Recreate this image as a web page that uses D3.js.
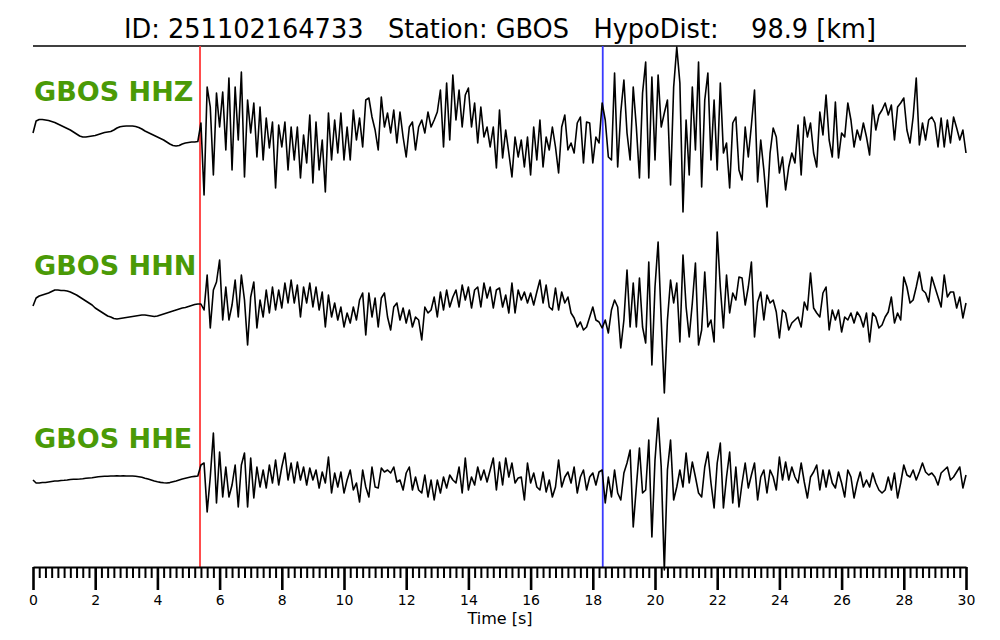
<!DOCTYPE html>
<html><head><meta charset="utf-8">
<script src="https://cdn.jsdelivr.net/npm/d3@7"></script>
<style>body{margin:0;background:#fff} svg{display:block;font-family:"DejaVu Sans",sans-serif}</style>
</head><body><svg id="c" width="1000" height="640"></svg>
<script>
// sampling interval of the traces [s]
const dt = 0.1;
const titleText = "ID: 251102164733   Station: GBOS   HypoDist:    98.9 [km]";
const xLabel = "Time [s]";
const majorTicks = [0,2,4,6,8,10,12,14,16,18,20,22,24,26,28,30];
const pPick = 5.37, sPick = 18.32;
const channels = ["GBOS HHZ","GBOS HHN","GBOS HHE"];

// HHZ amplitude (arbitrary units), segments start at 0.0, 5.4, 10.2, 20.4 s
const hhzPre = [-3,9,10.5,10.5,10,9.5,8.5,7.5,6,4.5,3,1.5,0,-2,-4,-6,-7,-7,-6.5,-6,-5.5,-4.5,-3.5,-2.5,-2,-1.5,0,2,3.3,3.8,4,4,4,3.5,2.5,1,-1,-2.5,-4,-5.5,-7,-8.5,-10,-12,-14,-15.5,-16,-15.5,-14,-13,-12.5,-12,-12,-11.5];
const hhzA = [7,-65,43,23,-45,37,3,38,-20,52,-40,43,-10,58,-47,30,-3,27,-27,23,-30,12,-18,8,-58,5,-17,8,-40,3,-30,3,-48,-5,-33,15,-53,8,-40,-10,-62,17,-30,10,-23,17,-30,3];
const hhzB = [-30,20,-10,12,-17,30,32,13,0,-20, 33,3,17,-3,20,-13,18,-7,-27,3, 8,-20,3,10,-3,18,3,10,18,40, -17,47,-10,55,10,40,3,35,42,3, 27,-13,23,-7,3,-17,3,-38,20,-28, 0,-23,-47,-7,-27,-10,-37,-7,-45,3, -30,10,-37,-7,-20,3,-17,-43,3,15, -20,-13,-23,7,13,-33,8,7,-33,-7, -13,27,10,-27,-30,57,-37,18,50,-3, -30,43,3,-48,37,68,-48,53,-30,55, 3,17];
const hhzC = [30,-55,43,83,47,-82,10,-45,43,-20, 68,-57,30,57,-30,30,-40,47,-23,-13, -58,7,13,-40,-50,3,-27,5,40,-52, -10,-40,-77,-23,2,-7,-43,-27,-60,-37, -23,-33,5,-45,13,-7,7,-23,-37,18, -5,35,-10,-27,28,-28,-3,-7,27,10, -17,0,-10,7,-7,-25,25,0,15,20, 27,15,25,-10,23,27,32,0,-13,13, 52,-15,7,-10,10,13,7,-17,12,-17, 10,-13,13,2,-10,0,-23];

// HHN amplitude, segments start at 0.0, 5.4, 10.2, 20.5 s
const hhnPre = [-6,2,4,5,6,7,8.5,10,10,9.5,9.5,9,8,6.5,5,3,1,-1,-3,-5,-8,-10,-12,-14,-16,-17,-18.5,-19,-18.5,-18,-17.5,-17,-16.5,-16,-15.5,-15,-15,-15.5,-16,-16.5,-16,-15,-14,-13,-12,-11,-10,-9,-8,-7.5,-6.5,-5.5,-4.5,-4];
const hhnA = [-4,-10,25,-28,10,18,40,-20,13,-20,-5,20,-17,25,0,-45,3,18,-28,0,-17,10,-13,13,-10,10,-8,17,-3,20,-3,15,-17,13,-3,17,-7,13,-10,8,-27,5,-17,-3,-20,-7,-27,-13];
const hhnB = [-23,-7,-20,0,7,-35,7,-17,2,-27, 2,7,-17,-30,-7,-3,-20,-8,-23,-10, -27,-17,-20,-40,-7,-13,-10,3,-17,8, -10,10,-7,3,10,-7,15,0,13,-8, 10,13,-7,17,2,13,-8,10,12,-7, 5,-13,17,-13,10,0,8,-3,7,-5, 8,20,-3,15,-7,-10,12,-10,8,-3, 3,-13,-18,-27,-22,-30,-27,-17,-7,-20, -22,-28,-20,-33,-10,0,-7,-48,-20,30, -27,17,-27,22,-27,-43,38,-65,13,58, -20,-93,-20];
const hhnC = [20,-3,17,-42,45,-7,-37,-3,37,-45, -30,28,-27,-20,-42,68,13,-28,25,-13, 7,0,23,22,-5,13,38,-37,-2,8, -20,5,-3,0,-12,-38,-10,-13,-30,-23, -20,-17,-27,-2,-10,27,-8,-13,-17,7, 13,-30,-10,-20,-10,-32,-17,-20,-13,-23, -12,-17,-27,-13,-42,-13,-17,-28,-25,-17, -12,3,-23,-13,-20,23,13,-3,0,13, 28,10,7,-2,23,13,3,-7,25,3, 8,8,-8,3,-18,-3];

// HHE amplitude, segments start at 0.0, 5.4, 10.2, 20.5 s
const hhePre = [0,-3,-3,-2.5,-2.5,-2,-1.5,-1,-1,-0.5,-0.3,0,0.5,0.7,0.8,1,1.3,1.7,2,2.3,2.8,3.3,3.5,3.7,3.8,4,4,4.2,4,4.2,4,4,4,3.7,3.3,2.7,1.8,1,0,-1,-1.8,-2.4,-2.8,-3,-2.6,-1.8,-1,0,1,1.8,2.5,3.2,3.6,4];
const hheA = [15,17,-32,3,47,-23,28,-17,13,-17,-5,15,-27,15,27,-27,22,-18,13,-7,10,-8,15,-3,20,-5,13,27,0,17,-3,18,0,13,-5,12,0,10,-8,8,-3,23,-13,7,-7,8,-13,0];
const hheB = [10,-10,-3,-22,10,-7,-17,13,-7,-8, 12,8,10,7,13,-2,0,-10,7,13, -10,3,-10,-13,5,-17,0,-20,0,-13, 3,-8,5,0,-3,13,-13,22,-10,3, -5,13,0,10,-2,10,22,-10,18,-5, 22,3,17,-3,2,3,-20,17,-3,7, -7,-10,8,-12,0,-17,-7,20,-7,3, 8,-3,13,-13,3,10,-10,3,7,-5, 8,10,-23,3,-17,10,-13,-20,7,17, 30,-47,-7,32,-13,-10,40,-57,20,62, 13,-90,10];
const hheC = [40,-20,-7,10,-7,27,-3,18,3,-13, -17,13,28,-3,-28,17,37,-28,3,28, -23,13,-27,-3,17,-8,5,17,-20,3, 10,-13,10,3,-10,23,0,18,0,13, 3,-3,17,-2,-18,3,8,15,-10,10, -7,10,-3,-8,8,-3,-17,10,3,-18, -3,8,-7,0,-7,7,-3,-10,-13,-10, 3,-10,7,-18,-3,15,5,3,10,0, 8,17,8,5,7,3,-5,7,10,13, 0,3,8,13,-8,5];

const traceSegments = [
  [[0,hhzPre],[5.4,hhzA],[10.2,hhzB],[20.4,hhzC]],
  [[0,hhnPre],[5.4,hhnA],[10.2,hhnB],[20.5,hhnC]],
  [[0,hhePre],[5.4,hheA],[10.2,hheB],[20.5,hheC]]
];

const svg = d3.select("#c");
const x = d3.scaleLinear().domain([0,30]).range([33,966]);
const centers = [130,300,480];
const axisY = 567;

// title
svg.append("text").attr("x",500).attr("y",37.5).attr("text-anchor","middle")
  .attr("font-size",27).attr("xml:space","preserve").style("white-space","pre")
  .attr("textLength",752).attr("lengthAdjust","spacingAndGlyphs")
  .attr("fill","#000").text(titleText);
svg.append("line").attr("x1",x(0)).attr("x2",x(30)).attr("y1",46).attr("y2",46)
  .attr("stroke","#000").attr("stroke-width",1.6);

// picks
[[pPick,"#ff3a3a"],[sPick,"#3a3aff"]].forEach(([t,c])=>{
  svg.append("line").attr("x1",x(t)).attr("x2",x(t)).attr("y1",46).attr("y2",axisY)
    .attr("stroke",c).attr("stroke-width",1.8);
});

// traces
traceSegments.forEach((segs,k)=>{
  const y = d3.scaleLinear().domain([-100,100]).range([centers[k]+100, centers[k]-100]);
  const pts = [];
  segs.forEach(([t0,vals])=>vals.forEach((v,i)=>pts.push([t0+i*dt, v])));
  const line = d3.line().x(d=>x(d[0])).y(d=>y(d[1]));
  svg.append("path").datum(pts).attr("d",line).attr("fill","none")
    .attr("stroke","#000").attr("stroke-width",1.6).attr("stroke-linejoin","round");
});

// channel labels
const labelY = [100.5,275,448];
channels.forEach((c,k)=>{
  svg.append("text").attr("x",34).attr("y",labelY[k]).attr("font-size",27)
    .attr("font-weight","bold").attr("fill","#4a9a06").text(c);
});

// axis
const minorTicks = d3.range(0,151).filter(i=>i%10!==0).map(i=>i/5);
const gMinor = svg.append("g").attr("transform",`translate(0,${axisY})`)
  .call(d3.axisBottom(x).tickValues(minorTicks).tickSize(11).tickSizeOuter(0).tickFormat(""));
gMinor.selectAll(".tick line").attr("stroke-width",2);
gMinor.select(".domain").remove();
const gMajor = svg.append("g").attr("transform",`translate(0,${axisY})`)
  .call(d3.axisBottom(x).tickValues(majorTicks).tickSize(23).tickSizeOuter(0).tickPadding(5).tickFormat(d3.format("d")));
gMajor.selectAll(".tick line").attr("stroke-width",2.6);
gMajor.select(".domain").attr("stroke-width",2.2);
gMajor.selectAll(".tick text").attr("font-size",14).attr("font-family","DejaVu Sans").attr("fill","#000");

svg.append("text").attr("x",500).attr("y",624).attr("text-anchor","middle")
  .attr("font-size",16).attr("fill","#000").text(xLabel);
</script></body></html>
